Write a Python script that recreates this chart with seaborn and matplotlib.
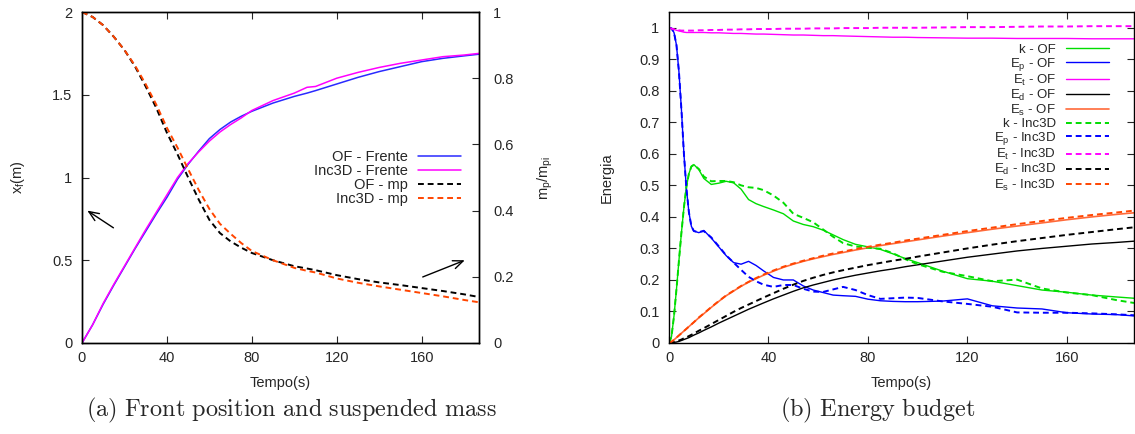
import numpy as np
import pandas as pd
import matplotlib
matplotlib.use("Agg")
import matplotlib.pyplot as plt
import seaborn as sns

# ---------------- data: panel (a) ----------------
t_front = [0, 5, 10, 15, 20, 25, 30, 35, 40, 45, 50, 55, 60, 65, 70, 75, 80, 90,
           100, 106, 110, 120, 130, 140, 150, 160, 170, 180, 187]
front_of = [0, 0.11, 0.235, 0.35, 0.46, 0.57, 0.675, 0.78, 0.88, 0.99, 1.08, 1.16,
            1.235, 1.29, 1.335, 1.37, 1.40, 1.45, 1.49, 1.51, 1.525, 1.565, 1.605,
            1.64, 1.67, 1.70, 1.72, 1.735, 1.745]
front_inc = [0, 0.11, 0.24, 0.355, 0.465, 0.575, 0.685, 0.79, 0.895, 1.0, 1.085,
             1.155, 1.22, 1.275, 1.32, 1.36, 1.405, 1.465, 1.51, 1.545, 1.55, 1.60,
             1.635, 1.665, 1.69, 1.71, 1.73, 1.74, 1.75]
mp_of = [1.0, 0.985, 0.96, 0.925, 0.885, 0.835, 0.775, 0.71, 0.635, 0.57, 0.50,
         0.433, 0.372, 0.332, 0.307, 0.288, 0.272, 0.25, 0.232, 0.225, 0.22, 0.205,
         0.193, 0.183, 0.175, 0.166, 0.157, 0.147, 0.139]
mp_inc = [1.0, 0.985, 0.96, 0.925, 0.885, 0.838, 0.782, 0.72, 0.65, 0.59, 0.525,
          0.462, 0.405, 0.36, 0.33, 0.302, 0.278, 0.25, 0.227, 0.218, 0.213, 0.195,
          0.182, 0.171, 0.161, 0.151, 0.141, 0.13, 0.123]

# ---------------- data: panel (b) ----------------
t_en = [0, 1, 2, 3, 4, 5, 6, 7, 8, 9, 10, 12, 14, 17, 20, 23, 26, 29, 32, 35, 38,
        42, 46, 50, 54, 58, 62, 66, 70, 75, 80, 85, 90, 95, 100, 110, 120, 130,
        140, 150, 160, 170, 180, 187]
k_of = [0, 0.02, 0.085, 0.17, 0.262, 0.35, 0.43, 0.495, 0.537, 0.56, 0.566, 0.55,
        0.522, 0.503, 0.507, 0.513, 0.508, 0.488, 0.455, 0.442, 0.433, 0.422, 0.41,
        0.387, 0.376, 0.369, 0.358, 0.343, 0.328, 0.313, 0.305, 0.297, 0.283, 0.268,
        0.255, 0.228, 0.204, 0.196, 0.182, 0.168, 0.161, 0.152, 0.146, 0.142]
k_inc = [0, 0.02, 0.085, 0.17, 0.262, 0.35, 0.43, 0.495, 0.537, 0.56, 0.565, 0.552,
         0.528, 0.513, 0.514, 0.514, 0.51, 0.5, 0.494, 0.492, 0.485, 0.468, 0.445,
         0.41, 0.397, 0.383, 0.36, 0.337, 0.317, 0.306, 0.302, 0.299, 0.285, 0.266,
         0.25, 0.226, 0.212, 0.196, 0.201, 0.173, 0.16, 0.152, 0.136, 0.127]
ep_of = [1.0, 0.998, 0.985, 0.945, 0.86, 0.74, 0.6, 0.49, 0.415, 0.37, 0.355, 0.35,
         0.357, 0.333, 0.305, 0.277, 0.255, 0.25, 0.259, 0.246, 0.229, 0.208, 0.2,
         0.2, 0.181, 0.168, 0.16, 0.152, 0.15, 0.148, 0.139, 0.134, 0.132, 0.131,
         0.131, 0.133, 0.14, 0.118, 0.111, 0.108, 0.096, 0.092, 0.09, 0.086]
ep_inc = [1.0, 0.998, 0.985, 0.945, 0.86, 0.74, 0.6, 0.49, 0.415, 0.37, 0.355,
          0.352, 0.355, 0.335, 0.307, 0.278, 0.255, 0.232, 0.21, 0.196, 0.185, 0.178,
          0.184, 0.184, 0.172, 0.163, 0.162, 0.17, 0.178, 0.168, 0.152, 0.14, 0.142,
          0.144, 0.143, 0.132, 0.124, 0.115, 0.097, 0.096, 0.096, 0.094, 0.091, 0.088]
et_of = [1.0, 0.998, 0.995, 0.992, 0.99, 0.988, 0.986, 0.985, 0.985, 0.985, 0.985,
         0.985, 0.985, 0.984, 0.984, 0.983, 0.982, 0.982, 0.981, 0.98, 0.98, 0.979,
         0.978, 0.977, 0.977, 0.976, 0.975, 0.975, 0.974, 0.973, 0.972, 0.971, 0.97,
         0.97, 0.969, 0.968, 0.967, 0.967, 0.966, 0.966, 0.966, 0.965, 0.965, 0.965]
et_inc = [1.0, 0.997, 0.995, 0.993, 0.992, 0.991, 0.991, 0.991, 0.991, 0.991, 0.991,
          0.992, 0.992, 0.993, 0.993, 0.994, 0.994, 0.995, 0.995, 0.996, 0.996, 0.996,
          0.997, 0.997, 0.997, 0.998, 0.998, 0.998, 0.999, 0.999, 0.999, 1.0, 1.0,
          1.0, 1.0, 1.001, 1.002, 1.002, 1.003, 1.004, 1.004, 1.005, 1.005, 1.005]
es_of = [0, 0.004, 0.01, 0.017, 0.024, 0.031, 0.038, 0.045, 0.052, 0.059, 0.066,
         0.08, 0.093, 0.113, 0.132, 0.15, 0.165, 0.18, 0.193, 0.204, 0.215, 0.228,
         0.24, 0.25, 0.259, 0.267, 0.274, 0.281, 0.287, 0.295, 0.302, 0.309, 0.315,
         0.321, 0.327, 0.339, 0.35, 0.361, 0.371, 0.381, 0.391, 0.4, 0.408, 0.413]
es_inc = [0, 0.004, 0.01, 0.017, 0.024, 0.031, 0.038, 0.045, 0.052, 0.059, 0.066,
          0.081, 0.094, 0.114, 0.133, 0.151, 0.166, 0.181, 0.194, 0.206, 0.217, 0.23,
          0.242, 0.252, 0.261, 0.269, 0.277, 0.284, 0.29, 0.298, 0.305, 0.312, 0.318,
          0.325, 0.331, 0.343, 0.355, 0.366, 0.377, 0.387, 0.397, 0.406, 0.414, 0.42]
ed_of = [0, 0.0005, 0.002, 0.003, 0.005, 0.008, 0.011, 0.014, 0.017, 0.021, 0.025,
         0.032, 0.04, 0.051, 0.063, 0.074, 0.085, 0.096, 0.107, 0.117, 0.127, 0.14,
         0.152, 0.164, 0.175, 0.184, 0.192, 0.2, 0.207, 0.215, 0.222, 0.229, 0.235,
         0.242, 0.248, 0.26, 0.272, 0.282, 0.292, 0.3, 0.307, 0.314, 0.319, 0.323]
ed_inc = [0, 0.001, 0.003, 0.005, 0.008, 0.011, 0.015, 0.018, 0.022, 0.026, 0.03,
          0.039, 0.047, 0.06, 0.073, 0.086, 0.099, 0.111, 0.122, 0.133, 0.144, 0.158,
          0.172, 0.185, 0.197, 0.207, 0.216, 0.224, 0.231, 0.239, 0.247, 0.254, 0.261,
          0.267, 0.274, 0.287, 0.3, 0.312, 0.323, 0.333, 0.343, 0.352, 0.361, 0.367]

xticks = [0, 40, 80, 120, 160]

# ---------------- style ----------------
sns.set_theme(style="ticks")
plt.rcParams["font.family"] = ["Liberation Sans", "DejaVu Sans"]
plt.rcParams["mathtext.fontset"] = "custom"
plt.rcParams["mathtext.rm"] = "Liberation Sans"
plt.rcParams["mathtext.it"] = "Liberation Sans:italic"
plt.rcParams["axes.linewidth"] = 1.0

FS = 10.5
LFS_B = 9.5
BLUE = "#0000ff"
MAG = "#ff00ff"
GREEN = "#00dd00"
ORANGE_S = "#ff6a3a"
ORANGE_D = "#ff4500"
DASH = (0, (3, 2))

fig = plt.figure(figsize=(11.35, 4.34), dpi=100)
ax = fig.add_axes([82 / 1135, 1 - 343 / 434, (479 - 82) / 1135, 331 / 434])
ax2 = ax.twinx()
bx = fig.add_axes([669 / 1135, 1 - 343 / 434, (1134 - 669) / 1135, 331 / 434])


def line(a, x, y, color, ls, label, lw):
    df = pd.DataFrame({"x": x, "y": y})
    sns.lineplot(data=df, x="x", y="y", ax=a, color=color, linestyle=ls,
                 linewidth=lw, label=label, legend=False, errorbar=None,
                 estimator=None, sort=False)


# ---- panel (a)
line(ax, t_front, front_of, "#2a2aff", "-", "OF - Frente", 1.1)
line(ax, t_front, front_inc, MAG, "-", "Inc3D - Frente", 1.1)
line(ax2, t_front, mp_of, "black", DASH, "OF - mp", 1.4)
line(ax2, t_front, mp_inc, ORANGE_D, DASH, "Inc3D - mp", 1.4)

ax.set_xlim(0, 187)
ax.set_ylim(0, 2)
ax2.set_ylim(0, 1)
ax.set_xticks(xticks)
ax.set_yticks([0, 0.5, 1, 1.5, 2])
ax.set_yticklabels(["0", "0.5", "1", "1.5", "2"])
ax2.set_yticks([0, 0.2, 0.4, 0.6, 0.8, 1])
ax2.set_yticklabels(["0", "0.2", "0.4", "0.6", "0.8", "1"])
ax.set_xlabel("Tempo(s)", fontsize=FS)
ax.set_ylabel(r"x$_\mathrm{f}$(m)", fontsize=FS)
ax2.set_ylabel(r"m$_\mathrm{p}$/m$_\mathrm{pi}$", fontsize=FS)
ax.xaxis.set_label_coords(0.5, -0.10)
ax.yaxis.set_label_coords(-0.138, 0.5)
ax2.yaxis.set_label_coords(1.144, 0.5)
ax.tick_params(axis="both", direction="in", length=5, width=0.8, labelsize=FS,
               top=True, right=False, pad=6)
ax.tick_params(axis="y", pad=7)
ax2.tick_params(axis="y", direction="in", length=5, width=0.8, labelsize=FS, pad=10)

h1, l1 = ax.get_legend_handles_labels()
h2, l2 = ax2.get_legend_handles_labels()
ax2.legend(h1 + h2, l1 + l2, loc="upper right", bbox_to_anchor=(0.954, 0.583),
           frameon=False, markerfirst=False, fontsize=FS, handlelength=2.9,
           handletextpad=0.7, labelspacing=0.0, borderpad=0, borderaxespad=0)

ax.annotate("", xy=(2.5, 0.80), xytext=(14.8, 0.696),
            arrowprops=dict(arrowstyle="->,head_length=0.6,head_width=0.25",
                            lw=1.0, color="black", shrinkA=0, shrinkB=0))
ax.annotate("", xy=(180.3, 0.50), xytext=(160.5, 0.399),
            arrowprops=dict(arrowstyle="->,head_length=0.6,head_width=0.25",
                            lw=1.0, color="black", shrinkA=0, shrinkB=0))

# ---- panel (b)
line(bx, t_en, k_of, GREEN, "-", r"k - OF", 1.0)
line(bx, t_en, ep_of, BLUE, "-", r"E$_\mathrm{p}$ - OF", 1.0)
line(bx, t_en, et_of, MAG, "-", r"E$_\mathrm{t}$ - OF", 1.0)
line(bx, t_en, ed_of, "black", "-", r"E$_\mathrm{d}$ - OF", 1.0)
line(bx, t_en, es_of, ORANGE_S, "-", r"E$_\mathrm{s}$ - OF", 1.2)
line(bx, t_en, k_inc, GREEN, DASH, r"k - Inc3D", 1.4)
line(bx, t_en, ep_inc, BLUE, DASH, r"E$_\mathrm{p}$ - Inc3D", 1.4)
line(bx, t_en, et_inc, MAG, DASH, r"E$_\mathrm{t}$ - Inc3D", 1.4)
line(bx, t_en, ed_inc, "black", DASH, r"E$_\mathrm{d}$ - Inc3D", 1.4)
line(bx, t_en, es_inc, ORANGE_D, DASH, r"E$_\mathrm{s}$ - Inc3D", 1.4)

bx.set_xlim(0, 187)
bx.set_ylim(0, 1.05)
bx.set_xticks(xticks)
ey = [round(v * 0.1, 1) for v in range(11)]
bx.set_yticks(ey)
bx.set_yticklabels(["0"] + [f"{v:.1f}" for v in ey[1:-1]] + ["1"])
bx.set_xlabel("Tempo(s)", fontsize=FS)
bx.set_ylabel("Energia", fontsize=FS)
bx.xaxis.set_label_coords(0.5, -0.10)
bx.yaxis.set_label_coords(-0.118, 0.5)
bx.tick_params(axis="both", direction="in", length=5, width=0.8, labelsize=FS,
               top=True, right=True, pad=6)
bx.tick_params(axis="y", pad=7)
hb, lb = bx.get_legend_handles_labels()
bx.legend(hb, lb, loc="upper right", bbox_to_anchor=(0.946, 0.905),
          frameon=False, markerfirst=False, fontsize=LFS_B, handlelength=3.25,
          handletextpad=0.75, labelspacing=0.0, borderpad=0, borderaxespad=0)

for a in (ax, ax2, bx):
    for s in a.spines.values():
        s.set_linewidth(1.0)
        s.set_color("black")

# ---- captions
fig.text(0.257, 0.055, r"$\mathrm{(a)\ Front\ position\ and\ suspended\ mass}$",
         math_fontfamily="cm", fontsize=17.5, ha="center", va="center")
fig.text(0.773, 0.055, r"$\mathrm{(b)\ Energy\ budget}$",
         math_fontfamily="cm", fontsize=17.5, ha="center", va="center")

fig.savefig("out.png", dpi=100)
